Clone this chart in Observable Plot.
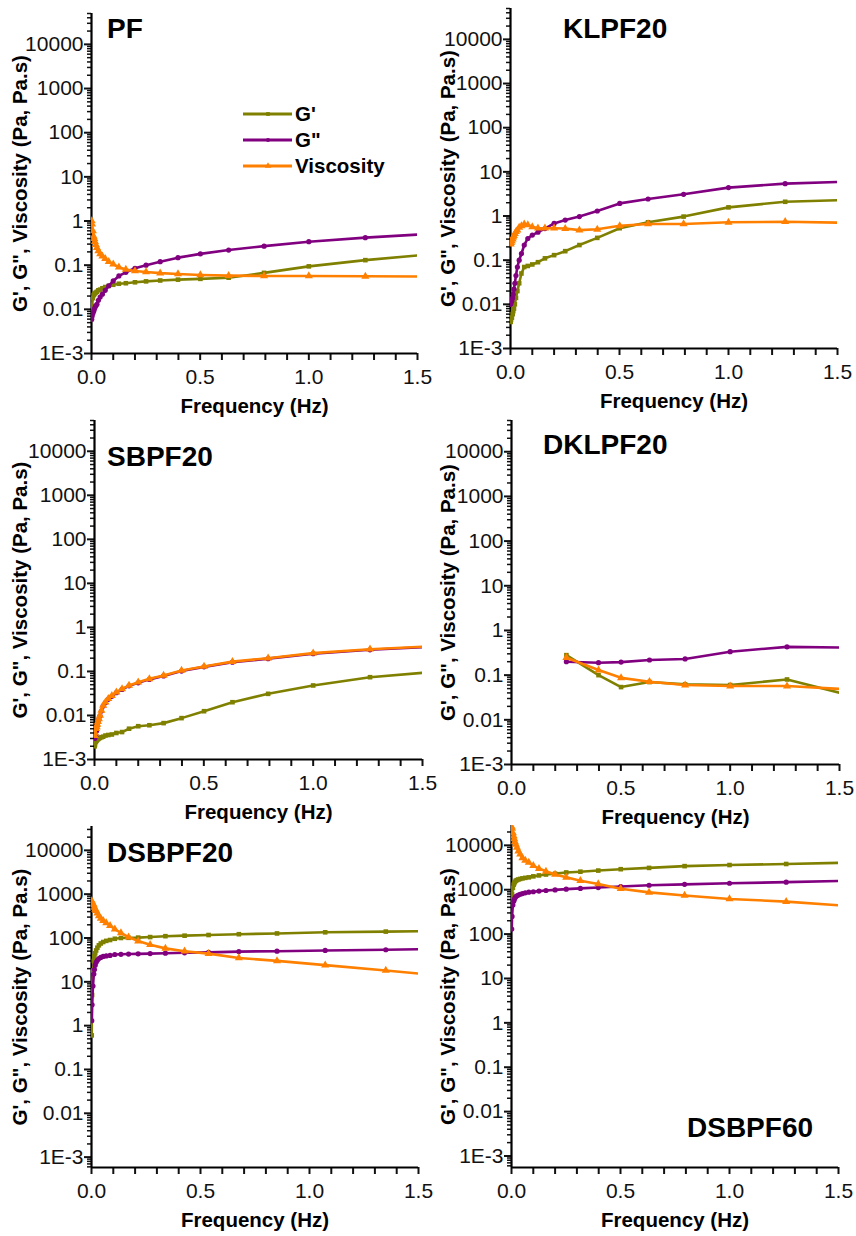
<!DOCTYPE html>
<html>
<head>
<meta charset="utf-8">
<script src="https://cdn.jsdelivr.net/npm/d3@7"></script>
<script src="https://cdn.jsdelivr.net/npm/@observablehq/plot@0.6"></script>
<style>
  body { margin: 0; background: #fff; }
  #root { position: relative; width: 856px; height: 1236px; font-family: Arial, "Liberation Sans", sans-serif; color: #111; }
  .panel { position: absolute; }
  .panel svg { overflow: visible; }
  .title { position: absolute; font-weight: bold; font-size: 28px; line-height: 28px; white-space: nowrap; color: #000; }
  .legend { position: absolute; font-weight: bold; font-size: 20.5px; color: #000; }
  .legend .row { display: flex; align-items: center; height: 26px; }
  .legend svg { margin-right: 3px; }
</style>
</head>
<body>
<div id="root"></div>
<script>
// ---------- data ----------
const FREQ = [0.001, 0.0025, 0.0063, 0.01, 0.0126, 0.0158, 0.02, 0.0251, 0.0316, 0.0398, 0.0501, 0.0631, 0.0794, 0.1, 0.126, 0.158, 0.2, 0.251, 0.316, 0.398, 0.501, 0.631, 0.794, 1.0, 1.26, 1.58];
const FREQ_DSB20 = [0.00107, 0.00268, 0.00675, 0.0107, 0.0135, 0.017, 0.0214, 0.0269, 0.0339, 0.0427, 0.0537, 0.0676, 0.0851, 0.107, 0.135, 0.17, 0.214, 0.269, 0.339, 0.427, 0.537, 0.676, 0.851, 1.072, 1.35, 1.70];
const FREQ_DKL = [0.251, 0.398, 0.501, 0.631, 0.794, 1.0, 1.26, 1.58];

const SERIES = ["G'", "G\"", "Viscosity"];

// PF
const PF_G1  = [0.006, 0.012, 0.018, 0.021, 0.022, 0.023, 0.024, 0.025, 0.027, 0.028, 0.030, 0.032, 0.034, 0.036, 0.038, 0.039, 0.041, 0.043, 0.045, 0.047, 0.049, 0.052, 0.067, 0.094, 0.13, 0.18];
const PF_G2  = [0.006, 0.007, 0.008, 0.009, 0.010, 0.011, 0.012, 0.013, 0.016, 0.019, 0.022, 0.027, 0.034, 0.044, 0.057, 0.069, 0.085, 0.10, 0.12, 0.148, 0.18, 0.22, 0.27, 0.34, 0.42, 0.52];
const PF_ETA = [1.0, 0.85, 0.6, 0.45, 0.40, 0.34, 0.29, 0.25, 0.21, 0.18, 0.16, 0.14, 0.12, 0.105, 0.09, 0.08, 0.074, 0.07, 0.066, 0.063, 0.06, 0.058, 0.057, 0.057, 0.056, 0.055];

// KLPF20
const KL_G1  = [0.004, 0.0045, 0.005, 0.006, 0.007, 0.008, 0.010, 0.014, 0.020, 0.030, 0.050, 0.070, 0.074, 0.080, 0.090, 0.11, 0.13, 0.16, 0.22, 0.32, 0.53, 0.72, 0.97, 1.57, 2.1, 2.35];
const KL_G2  = [0.010, 0.011, 0.012, 0.014, 0.017, 0.022, 0.030, 0.045, 0.070, 0.10, 0.14, 0.22, 0.31, 0.37, 0.43, 0.52, 0.68, 0.81, 0.97, 1.3, 1.93, 2.43, 3.1, 4.4, 5.4, 6.1];
const KL_ETA = [0.23, 0.25, 0.27, 0.30, 0.33, 0.36, 0.40, 0.44, 0.48, 0.55, 0.60, 0.65, 0.63, 0.57, 0.53, 0.53, 0.53, 0.52, 0.48, 0.50, 0.60, 0.66, 0.66, 0.72, 0.74, 0.70];

// SBPF20
const SB_G1  = [0.0020, 0.0022, 0.0025, 0.0027, 0.0028, 0.0029, 0.0030, 0.0031, 0.0032, 0.0033, 0.0035, 0.0036, 0.0037, 0.0040, 0.0042, 0.0050, 0.0057, 0.0060, 0.0067, 0.0087, 0.0125, 0.020, 0.031, 0.048, 0.074, 0.10];
const SB_G2  = [0.0030, 0.0032, 0.0035, 0.0045, 0.0060, 0.0070, 0.0082, 0.0098, 0.0126, 0.0165, 0.0195, 0.0233, 0.0272, 0.033, 0.039, 0.047, 0.055, 0.066, 0.079, 0.102, 0.127, 0.162, 0.195, 0.253, 0.31, 0.37];
const SB_ETA = [0.0035, 0.0040, 0.0050, 0.0055, 0.0063, 0.0072, 0.0084, 0.010, 0.013, 0.017, 0.020, 0.024, 0.028, 0.034, 0.040, 0.048, 0.057, 0.068, 0.081, 0.105, 0.13, 0.167, 0.20, 0.26, 0.32, 0.38];

// DKLPF20
const DKL_G1  = [0.28, 0.10, 0.054, 0.070, 0.062, 0.060, 0.080, 0.032];
const DKL_G2  = [0.20, 0.19, 0.196, 0.218, 0.23, 0.335, 0.43, 0.41];
const DKL_ETA = [0.245, 0.13, 0.087, 0.071, 0.060, 0.057, 0.057, 0.047];

// DSBPF20
const DSB20_G1  = [0.6, 5, 18, 30, 38, 45, 52, 60, 68, 75, 81, 86, 90, 96, 100, 101, 102, 105, 110, 113, 117, 122, 127, 135, 140, 147];
const DSB20_G2  = [1.3, 3, 8, 15, 19, 24, 28, 31, 34, 36, 38, 39, 40, 42, 42.5, 43, 43.5, 44, 45, 46, 47, 49, 50, 52, 54, 57];
const DSB20_ETA = [700, 650, 600, 560, 500, 450, 420, 370, 320, 280, 250, 220, 190, 160, 130, 105, 85, 70, 58, 50, 44, 35, 30, 24, 18.2, 12.5];

// DSBPF60
const DSB60_G1  = [500, 800, 1100, 1300, 1400, 1500, 1600, 1650, 1700, 1750, 1800, 1850, 1900, 2000, 2100, 2200, 2300, 2450, 2550, 2700, 2900, 3100, 3400, 3600, 3800, 4100];
const DSB60_G2  = [130, 250, 450, 550, 600, 650, 700, 730, 760, 790, 820, 850, 880, 900, 930, 960, 990, 1030, 1070, 1120, 1180, 1260, 1320, 1400, 1480, 1600];
const DSB60_ETA = [26000, 24000, 19000, 16000, 14000, 12000, 10500, 9000, 7400, 6300, 5200, 4600, 4100, 3500, 3000, 2600, 2200, 1900, 1600, 1350, 1050, 870, 740, 620, 540, 420];

// axis ticks
const Y_TICKS = [1e-3, 1e-2, 1e-1, 1, 10, 100, 1000, 10000];
const Y_TICK_LABELS = ["1E-3", "0.01", "0.1", "1", "10", "100", "1000", "10000"];
const X_TICKS = [0, 0.5, 1.0, 1.5];
const X_TICK_LABELS = ["0.0", "0.5", "1.0", "1.5"];
const Y_LABEL = "G', G\", Viscosity (Pa, Pa.s)";
const X_LABEL = "Frequency (Hz)";

// ---------- styles / layout ----------
const COLORS = ["#808000", "#800080", "#ff8000"];
const SYMBOLS = ["square", "circle", "triangle"];
const RADII = [2.6, 2.6, 3.0];

const panels = [
  {title: "PF",      freq: FREQ,       ys: [PF_G1, PF_G2, PF_ETA],          left: 0,   top: 0,   W: 428, H: 415, mL: 91, mR: 11, mT: 13, mB: 62, dom: [1e-3, 5e4],   tx: 107, ty: 15},
  {title: "KLPF20",  freq: FREQ,       ys: [KL_G1, KL_G2, KL_ETA],          left: 428, top: 0,   W: 428, H: 415, mL: 82, mR: 19, mT: 8,  mB: 67, dom: [1e-3, 5e4],   tx: 563, ty: 15},
  {title: "SBPF20",  freq: FREQ,       ys: [SB_G1, SB_G2, SB_ETA],          left: 0,   top: 415, W: 428, H: 410, mL: 94, mR: 6,  mT: 5,  mB: 66, dom: [1e-3, 5e4],   tx: 107, ty: 443},
  {title: "DKLPF20", freq: FREQ_DKL,   ys: [DKL_G1, DKL_G2, DKL_ETA],       left: 428, top: 415, W: 428, H: 410, mL: 83, mR: 17, mT: 5,  mB: 61, dom: [1e-3, 5e4],   tx: 543, ty: 431},
  {title: "DSBPF20", freq: FREQ_DSB20, ys: [DSB20_G1, DSB20_G2, DSB20_ETA], left: 0,   top: 825, W: 428, H: 411, mL: 91, mR: 10, mT: 1,  mB: 69, dom: [5.8e-4, 3.5e4], tx: 107, ty: 839},
  {title: "DSBPF60", freq: FREQ,       ys: [DSB60_G1, DSB60_G2, DSB60_ETA], left: 428, top: 825, W: 428, H: 411, mL: 83, mR: 18, mT: 0,  mB: 69, dom: [5.5e-4, 2.8e4], tx: 687, ty: 1114}
];

const minorY = [];
for (let e = -4; e <= 4; e++) for (let k = 2; k <= 9; k++) minorY.push(k * Math.pow(10, e));
const minorX = d3.range(0, 16).map(i => i / 10);

const root = document.getElementById("root");

panels.forEach(p => {
  const marks = [];
  // minor y ticks
  marks.push(Plot.axisY({ticks: minorY.filter(v => v >= p.dom[0] && v <= p.dom[1]), tickSize: 4, tickFormat: () => "", label: null, strokeWidth: 1.5}));
  // major y ticks with labels
  marks.push(Plot.axisY({ticks: Y_TICKS, tickSize: 7, tickPadding: 1, tickFormat: d => Y_TICK_LABELS[Y_TICKS.indexOf(d)], label: null, fontSize: 21, strokeWidth: 2}));
  // x ticks
  marks.push(Plot.axisX({ticks: minorX, tickSize: 7, tickPadding: 9, tickFormat: d => { const i = X_TICKS.findIndex(t => Math.abs(t - d) < 1e-9); return i >= 0 ? X_TICK_LABELS[i] : ""; }, label: null, fontSize: 21, strokeWidth: 2}));
  // axis lines
  marks.push(Plot.ruleX([0], {stroke: "#000", strokeWidth: 2.2}));
  marks.push(Plot.ruleY([p.dom[0]], {stroke: "#000", strokeWidth: 2.2}));
  // series
  p.ys.forEach((vals, si) => {
    const rows = p.freq.map((f, i) => ({f, v: vals[i]}));
    marks.push(Plot.line(rows, {x: "f", y: "v", stroke: COLORS[si], strokeWidth: 2.6, clip: true}));
    marks.push(Plot.dot(rows, {x: "f", y: "v", fill: COLORS[si], stroke: "none", symbol: SYMBOLS[si], r: RADII[si], clip: true}));
  });
  // axis titles
  marks.push(Plot.text([Y_LABEL], {frameAnchor: "left", textAnchor: "middle", rotate: -90, dx: -(p.mL - 20), fontWeight: "bold", fontSize: 20.5, fill: "#000", lineAnchor: "middle", text: d => d}));
  marks.push(Plot.text([X_LABEL], {frameAnchor: "bottom", textAnchor: "middle", dy: 53, fontWeight: "bold", fontSize: 20.5, fill: "#000", lineAnchor: "middle", text: d => d}));

  const chart = Plot.plot({
    width: p.W, height: p.H,
    marginLeft: p.mL, marginRight: p.mR, marginTop: p.mT, marginBottom: p.mB,
    x: {domain: [0, 1.5], axis: null},
    y: {type: "log", domain: p.dom, axis: null},
    style: {fontFamily: "Arial, 'Liberation Sans', sans-serif", color: "#111", background: "transparent", overflow: "visible"},
    marks
  });
  const wrap = document.createElement("div");
  wrap.className = "panel";
  wrap.style.left = p.left + "px";
  wrap.style.top = p.top + "px";
  wrap.appendChild(chart);
  root.appendChild(wrap);

  const t = document.createElement("div");
  t.className = "title";
  t.textContent = p.title;
  t.style.left = p.tx + "px";
  t.style.top = p.ty + "px";
  root.appendChild(t);
});

// legend (first panel)
const legend = document.createElement("div");
legend.className = "legend";
legend.style.left = "243px";
legend.style.top = "101px";
SERIES.forEach((name, i) => {
  const row = document.createElement("div");
  row.className = "row";
  const ns = "http://www.w3.org/2000/svg";
  const s = document.createElementNS(ns, "svg");
  s.setAttribute("width", 49); s.setAttribute("height", 12);
  const ln = document.createElementNS(ns, "line");
  ln.setAttribute("x1", 0); ln.setAttribute("x2", 49); ln.setAttribute("y1", 6); ln.setAttribute("y2", 6);
  ln.setAttribute("stroke", COLORS[i]); ln.setAttribute("stroke-width", 3);
  s.appendChild(ln);
  const sym = d3.symbol(i === 0 ? d3.symbolSquare : i === 1 ? d3.symbolCircle : d3.symbolTriangle, i === 2 ? 18 : 14)();
  const pth = document.createElementNS(ns, "path");
  pth.setAttribute("d", sym); pth.setAttribute("transform", "translate(25,6)"); pth.setAttribute("fill", COLORS[i]);
  s.appendChild(pth);
  row.appendChild(s);
  const tx = document.createElement("span");
  tx.textContent = name;
  row.appendChild(tx);
  legend.appendChild(row);
});
root.appendChild(legend);
</script>
</body>
</html>
